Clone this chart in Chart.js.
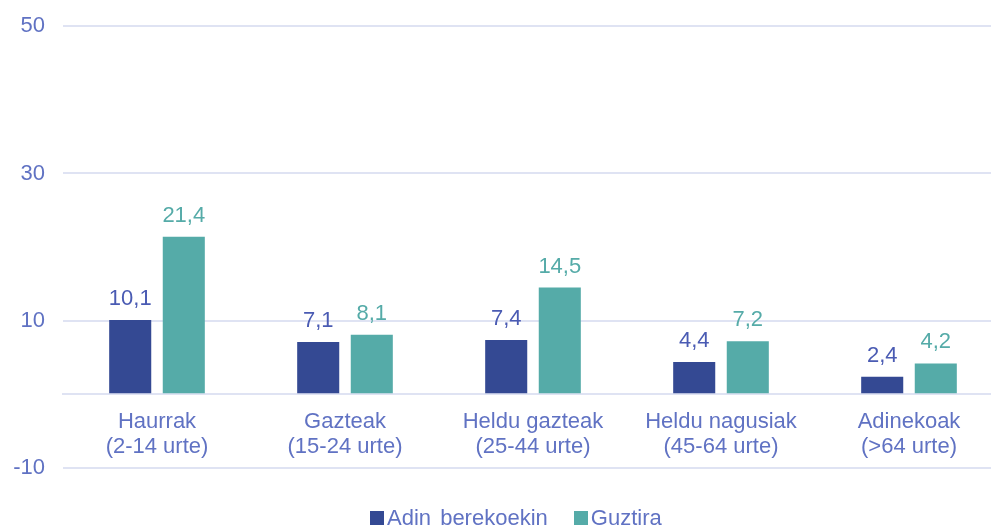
<!DOCTYPE html>
<html>
<head>
<meta charset="utf-8">
<script src="https://cdn.jsdelivr.net/npm/chart.js@4"></script>
<style>
  html, body { margin: 0; padding: 0; background: #fff; overflow: hidden; }
  #wrap { position: relative; width: 1003px; height: 526px; }
  #chart { position: absolute; left: 0; top: -5px; }
  #legend {
    position: absolute; top: 505px; left: 370px;
    font: 22px "Liberation Sans", Arial, sans-serif; color: #6072c3;
    white-space: nowrap; line-height: 26px;
  }
  #legend span.box { display: inline-block; width: 14px; height: 14px; margin-right: 3px; }
  #legend span.item { margin-right: 26px; word-spacing: 3px; }
</style>
</head>
<body>
<div id="wrap">
  <canvas id="chart" width="1003" height="531"></canvas>
  <div id="legend"></div>
</div>
<script>
const categories = [
  ["Haurrak", "(2-14 urte)"],
  ["Gazteak", "(15-24 urte)"],
  ["Heldu gazteak", "(25-44 urte)"],
  ["Heldu nagusiak", "(45-64 urte)"],
  ["Adinekoak", "(>64 urte)"]
];
const seriesNames = ["Adin berekoekin", "Guztira"];
const sameAge = [10.1, 7.1, 7.4, 4.4, 2.4];
const total = [21.4, 8.1, 14.5, 7.2, 4.2];
const shownTicks = [-10, 10, 30, 50];

const barColors = ["#344993", "#55aba8"];
const valueColors = ["#4a5bb3", "#55aba8"];
const textColor = "#6072c3";
const gridColor = "#dfe3f3";
const font = "Liberation Sans";

// value labels above bars, with comma decimals
const valueLabels = {
  id: "valueLabels",
  afterDatasetsDraw(chart) {
    const ctx = chart.ctx;
    ctx.save();
    ctx.font = "22px " + font;
    ctx.textAlign = "center";
    ctx.textBaseline = "alphabetic";
    chart.data.datasets.forEach((ds, i) => {
      chart.getDatasetMeta(i).data.forEach((bar, j) => {
        ctx.fillStyle = valueColors[i];
        ctx.fillText(ds.data[j].toFixed(1).replace(".", ","), bar.x, bar.y - 15);
      });
    });
    ctx.restore();
  }
};

new Chart(document.getElementById("chart"), {
  type: "bar",
  data: {
    labels: categories,
    datasets: [
      { label: seriesNames[0], data: sameAge, backgroundColor: barColors[0] },
      { label: seriesNames[1], data: total, backgroundColor: barColors[1] }
    ]
  },
  options: {
    responsive: false,
    animation: false,
    events: [],
    layout: { padding: { top: 20, bottom: 58, left: 0, right: 0 } },
    datasets: { bar: { categoryPercentage: 0.57, barPercentage: 0.785 } },
    plugins: { legend: { display: false }, tooltip: { enabled: false } },
    scales: {
      x: {
        position: { y: 0 },
        grid: { display: false, drawTicks: false },
        border: { display: true, color: gridColor, width: 2 },
        ticks: {
          color: textColor,
          padding: 15,
          maxRotation: 0,
          autoSkip: false,
          font: { family: font, size: 22, lineHeight: 1.15 }
        }
      },
      y: {
        min: -10,
        max: 50,
        afterFit(scale) { scale.width = 63; },
        border: { display: false },
        grid: {
          drawTicks: false,
          lineWidth: 2,
          color: c => (c.tick && (c.tick.value === 20 || c.tick.value === 40)) ? "rgba(0,0,0,0)" : gridColor
        },
        ticks: {
          stepSize: 10,
          padding: 18,
          color: textColor,
          font: { family: font, size: 22 },
          callback: v => shownTicks.includes(v) ? String(v) : ""
        }
      }
    }
  },
  plugins: [valueLabels]
});

document.getElementById("legend").innerHTML = seriesNames.map((n, i) =>
  `<span class="item"><span class="box" style="background:${barColors[i]}"></span>${n}</span>`
).join("");
</script>
</body>
</html>
